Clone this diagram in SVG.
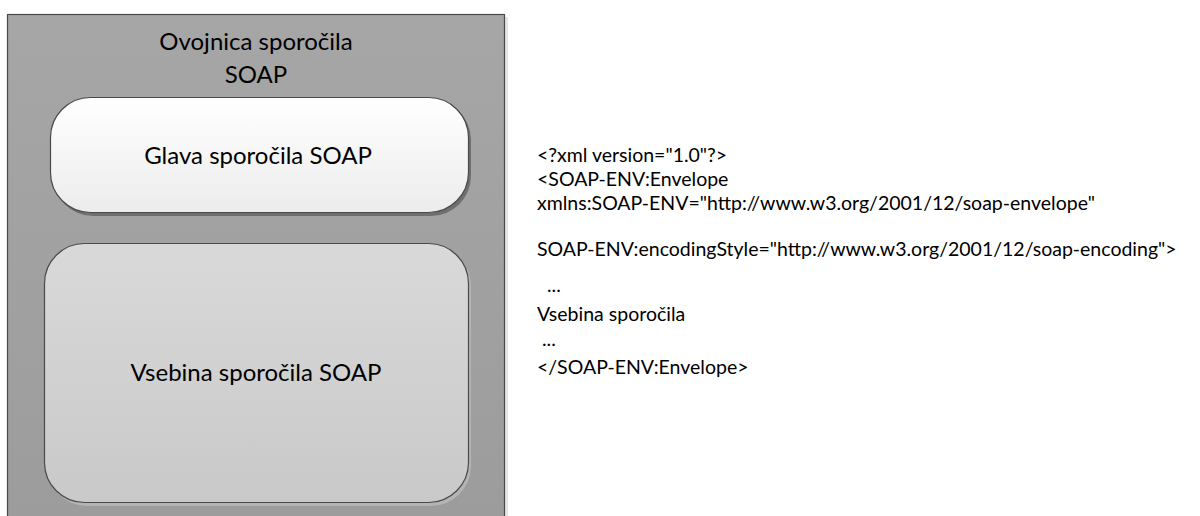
<svg xmlns="http://www.w3.org/2000/svg" width="1200" height="516" viewBox="0 0 1200 516">
  <defs>
    <linearGradient id="gOuter" x1="0" y1="0" x2="0" y2="1">
      <stop offset="0" stop-color="#a6a6a6"/>
      <stop offset="1" stop-color="#9c9c9c"/>
    </linearGradient>
    <linearGradient id="gHead" x1="0" y1="0" x2="0" y2="1">
      <stop offset="0" stop-color="#ffffff"/>
      <stop offset="1" stop-color="#ececec"/>
    </linearGradient>
    <linearGradient id="gBody" x1="0" y1="0" x2="0" y2="1">
      <stop offset="0" stop-color="#d9d9d9"/>
      <stop offset="1" stop-color="#c9c9c9"/>
    </linearGradient>
  </defs>
  <style>
    .lbl { font-family: Lato, "Liberation Sans", sans-serif; fill: #000; text-anchor: middle; }
    .code { font-family: Lato, "Liberation Sans", sans-serif; font-size: 19.5px; fill: #000; }
    .edge { stroke: #4a4a4a; stroke-width: 1.2; }
  </style>
  <rect width="1200" height="516" fill="#ffffff"/>
  <g id="envelope">
    <rect x="11" y="17" width="497" height="510" fill="#e6e6e6"/>
    <rect x="7.5" y="14.5" width="497" height="510" fill="url(#gOuter)" class="edge"/>
    <text class="lbl" font-size="24" x="256" y="50">Ovojnica sporočila</text>
    <text class="lbl" font-size="24" x="256" y="83">SOAP</text>
  </g>
  <g id="header">
    <rect x="53" y="100" width="418" height="116" rx="40" ry="40" fill="#6f6f6f"/>
    <rect x="50.5" y="97.5" width="418" height="115" rx="40" ry="40" fill="url(#gHead)" class="edge"/>
    <text class="lbl" font-size="24" x="258" y="164">Glava sporočila SOAP</text>
  </g>
  <g id="body">
    <rect x="47" y="246" width="424" height="260" rx="40" ry="40" fill="#b4b4b4"/>
    <rect x="44.5" y="243.5" width="424" height="259" rx="40" ry="40" fill="url(#gBody)" class="edge"/>
    <text class="lbl" font-size="24" x="256" y="381">Vsebina sporočila SOAP</text>
  </g>
  <g id="xml">
    <text class="code" x="537" y="162">&lt;?xml version="1.0"?&gt;</text>
    <text class="code" x="537" y="186">&lt;SOAP-ENV:Envelope</text>
    <text class="code" x="537" y="210">xmlns:SOAP-ENV="http://www.w3.org/2001/12/soap-envelope"</text>
    <text class="code" x="537" y="256">SOAP-ENV:encodingStyle="http://www.w3.org/2001/12/soap-encoding"&gt;</text>
    <text class="code" x="537" y="292" xml:space="preserve">  ...</text>
    <text class="code" x="537" y="321">Vsebina sporočila</text>
    <text class="code" x="537" y="346" xml:space="preserve"> ...</text>
    <text class="code" x="537" y="374">&lt;/SOAP-ENV:Envelope&gt;</text>
  </g>
  <g id="connectors"/>
</svg>
